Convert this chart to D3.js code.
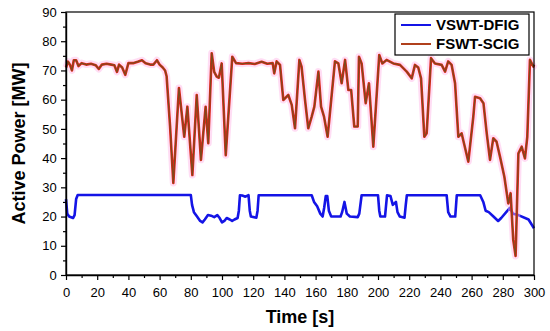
<!DOCTYPE html>
<html>
<head>
<meta charset="utf-8">
<script src="https://d3js.org/d3.v7.min.js"></script>
<style>
  body { margin: 0; background: #fff; }
  text { font-family: "Liberation Sans", Arial, sans-serif; }
</style>
</head>
<body>
<svg id="chart" width="550" height="331"></svg>
<script>
// series names
var seriesNames = ["VSWT-DFIG", "FSWT-SCIG"];

// VSWT-DFIG: time [s] and active power [MW]
var dfigT = [0,0.8,2,4.5,5.5,6.5,7.5,80,80.8,82,84,86,87.5,89,91,93,95,97,98.5,100,101.5,103,105,106.5,108,110,110.8,111.5,113,115,117,117.8,118.5,122,122.8,123.5,157.5,159,161,163,164.5,165.5,166.5,167.5,168.5,170,176,177,178.5,180,182,187,188,189.5,200,200.8,201.5,204.5,205.2,205.8,208,209.5,210.5,211.5,212.5,214,217,217.8,218.5,244,245,246.5,249.5,250.5,265.5,267.5,269,271,274,277,279,283,284.5,286.5,290,296.5,300];
var dfigP = [26,21,20,19.5,20.5,26,27.4,27.4,24,21.5,20,18.5,18,19,20.5,20.3,19.8,20.5,19.5,18,18.5,19.5,19,18.5,19,19.5,22,27.3,27.2,26.8,27.3,22,20,19.6,22,27.3,27.3,25,23.5,21,20,23,27,27,22,20,20,21.5,25,21,20,19.8,21,27.3,27.3,22,20,20,24,27.3,27,24,24.5,25,21.5,20,19.6,24,27.3,27.3,21.5,20,20,27.3,27.3,25,22,21.5,20,18.5,19.5,22,23,21,20.5,19,16];

// FSWT-SCIG: time [s] and active power [MW]
var scigT = [0,1.3,2.5,3.8,5,6.5,8,10,13,16,19,21,23,26,29,31,32.7,34,36,38,40,43,46,48.7,51,54,56,58.3,60,62,63.5,64.5,66.7,68.8,72.4,75.8,77.8,81,83.8,86.5,89.5,91.2,93.4,95,96.6,98,99.8,102.4,106.6,109,113,117,121,125.4,129,132.5,133.5,135,137.2,139.3,142.5,144.7,146.8,149.6,151,153.2,155.3,157.5,159.2,161.8,163.5,165.4,167.7,172.4,174.6,176.7,178.9,181,182.8,184.8,187,187.8,189.5,192.1,194.2,197,200.8,202.8,205.5,209.8,214.1,218.4,221.6,223.7,225.8,227.6,229.7,231.2,234,236.5,240.8,243,245,247.2,249.4,251.5,253.6,255.1,257.9,261.1,262.2,265.4,267.6,269.7,271.8,273.9,276,278.2,281,283.5,285,286.7,288.2,290,292.1,294.2,295.7,297.4,299.6,300];
var scigP = [71,73,72,70,73.5,73.5,71.5,72.5,72,72.3,71.8,70.5,72,72.3,72,71.8,69.5,72,71,68.5,72.5,72.5,73,73.5,72.5,72,72,73.5,72,71,70,68,51,31.5,64,47.3,57.6,34.2,61.6,39.4,57.6,45.1,75.9,69.5,67.9,67.5,72.4,41,74.7,72.5,72.3,72.5,72.2,73,72.3,72.5,69,73.1,71.9,59.9,61.6,58.2,50.2,73.6,71.3,60,50.2,54.2,57.6,69.6,57.6,54.2,47.3,73.1,72.4,65.6,73.6,63.3,63.3,50.8,50.8,74.7,72.4,58.8,65.6,43.9,75.3,72.4,73.6,72.4,71.9,69.6,67.3,71.9,71,67.3,47.3,48.5,74.2,72.4,71.9,69.6,73.1,71.9,65.6,47.3,48.5,45.1,38.8,54.2,61,60.5,58.8,48.5,39.4,46.8,45.6,40.5,33.6,24.5,28,12,6.5,41.6,43.9,39.9,47.3,73.6,71.3,72];

// ticks
var xTicks = d3.range(0, 301, 20);
var yTicks = d3.range(0, 91, 10);

var svg = d3.select("#chart"),
    width = +svg.attr("width"),
    height = +svg.attr("height"),
    margin = {top: 12, right: 16, bottom: 56, left: 66};

var x = d3.scaleLinear().domain([0, 300]).range([margin.left, width - margin.right]);
var y = d3.scaleLinear().domain([0, 90]).range([height - margin.bottom, margin.top]);

var dfig = dfigT.map(function(t, i) { return [t, dfigP[i]]; });
var scig = scigT.map(function(t, i) { return [t, scigP[i]]; });

var line = d3.line()
    .x(function(d) { return x(d[0]); })
    .y(function(d) { return y(d[1]); });

// lines
var g = svg.append("g");
g.append("path").datum(dfig)
    .attr("fill", "none").attr("stroke", "#1414e6")
    .attr("stroke-width", 2.6).attr("stroke-linejoin", "round")
    .attr("d", line);

g.append("path").datum(scig)
    .attr("fill", "none").attr("stroke", "#ffb3e6").attr("stroke-opacity", 0.45)
    .attr("stroke-width", 7).attr("stroke-linejoin", "round")
    .attr("d", line);
g.append("path").datum(scig)
    .attr("fill", "none").attr("stroke", "#e0261a")
    .attr("stroke-width", 2.6).attr("stroke-linejoin", "round")
    .attr("d", line);
g.append("path").datum(scig)
    .attr("fill", "none").attr("stroke", "#7d4a1c")
    .attr("stroke-width", 1.2).attr("stroke-linejoin", "round")
    .attr("d", line);

// frame
svg.append("rect")
    .attr("x", margin.left).attr("y", margin.top)
    .attr("width", width - margin.left - margin.right)
    .attr("height", height - margin.top - margin.bottom)
    .attr("fill", "none").attr("stroke", "#000").attr("stroke-width", 1.2);

// axes
var xAxis = svg.append("g")
    .attr("transform", "translate(0," + (height - margin.bottom) + ")")
    .call(d3.axisBottom(x).tickValues(xTicks).tickSize(5).tickSizeOuter(0));
svg.append("g")
    .attr("transform", "translate(0," + (height - margin.bottom) + ")")
    .call(d3.axisBottom(x).tickValues(d3.range(10, 300, 20)).tickSize(3).tickFormat(""))
    .select(".domain").remove();

var yAxis = svg.append("g")
    .attr("transform", "translate(" + margin.left + ",0)")
    .call(d3.axisLeft(y).tickValues(yTicks).tickSize(5).tickSizeOuter(0));
svg.append("g")
    .attr("transform", "translate(" + margin.left + ",0)")
    .call(d3.axisLeft(y).tickValues(d3.range(5, 90, 10)).tickSize(3).tickFormat(""))
    .select(".domain").remove();

svg.selectAll(".tick line").attr("stroke-width", 1.2);
svg.selectAll(".domain").attr("stroke-width", 1.4);
xAxis.selectAll("text").attr("font-size", 13).attr("dy", "1.1em").attr("fill", "#000");
yAxis.selectAll("text").attr("font-size", 13).attr("dx", "-0.1em").attr("fill", "#000");

// axis titles
svg.append("text")
    .attr("x", (margin.left + width - margin.right) / 2)
    .attr("y", 323)
    .attr("text-anchor", "middle")
    .attr("font-size", 18).attr("font-weight", "bold")
    .text("Time [s]");

svg.append("text")
    .attr("transform", "translate(25," + ((margin.top + height - margin.bottom) / 2) + ") rotate(-90)")
    .attr("text-anchor", "middle")
    .attr("font-size", 18).attr("font-weight", "bold")
    .text("Active Power [MW]");

// legend
var legend = svg.append("g").attr("transform", "translate(395,14)");
legend.append("rect")
    .attr("width", 134).attr("height", 41)
    .attr("fill", "#fff").attr("stroke", "#000").attr("stroke-width", 1.2);
var colors = ["#1414e6", "#b0401c"];
seriesNames.forEach(function(name, i) {
    var ly = 11 + i * 19;
    legend.append("line")
        .attr("x1", 6).attr("x2", 36).attr("y1", ly).attr("y2", ly)
        .attr("stroke", colors[i]).attr("stroke-width", 2);
    legend.append("text")
        .attr("x", 41).attr("y", ly).attr("dy", "0.36em")
        .attr("font-size", 15).attr("font-weight", "bold")
        .text(name);
});
</script>
</body>
</html>
